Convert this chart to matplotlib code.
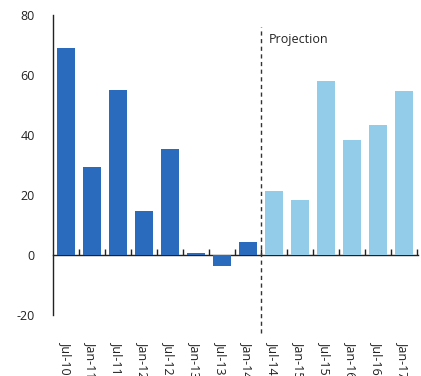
import numpy as np
import matplotlib.pyplot as plt

plt.rcParams['font.family'] = ['Open Sans', 'DejaVu Sans']
plt.rcParams['axes.unicode_minus'] = False

# half-yearly values, history then projection
labels = ['Jul-10', 'Jan-11', 'Jul-11', 'Jan-12', 'Jul-12', 'Jan-13', 'Jul-13',
          'Jan-14', 'Jul-14', 'Jan-15', 'Jul-15', 'Jan-16', 'Jul-16', 'Jan-17']
values = [69, 29.5, 55, 14.7, 35.3, 0.7, -3.7, 4.3,
          21.3, 18.3, 58, 38.3, 43.3, 54.7]
n_actual = 8

colors = ['#2A6BBE'] * n_actual + ['#92CCE8'] * (len(values) - n_actual)
x = np.arange(len(values))

fig = plt.figure(figsize=(4.21, 3.76), dpi=100)
ax = fig.add_axes([53 / 421, 61 / 376, 365 / 421, 300 / 376])

ax.bar(x, values, width=0.7, color=colors, edgecolor='none', zorder=2)

ax.set_xlim(-0.5, len(values) - 0.45)
ax.set_ylim(-20, 80)
ax.set_yticks([-20, 0, 20, 40, 60, 80])
ax.tick_params(axis='y', length=0, pad=13, labelsize=9, colors='#222222')

ax.set_xticks(x)
ax.set_xticklabels(labels, rotation=-90, va='top', ha='center')
ax.tick_params(axis='x', length=0, pad=19, labelsize=9, colors='#222222')

for s in ['top', 'right', 'bottom']:
    ax.spines[s].set_visible(False)
ax.spines['left'].set_color('#222222')
ax.spines['left'].set_linewidth(1.0)

# zero line with category separator ticks
zero = ax.secondary_xaxis(0.2)
zero.set_xticks(np.arange(0.5, len(values), 1.0))
zero.tick_params(axis='x', direction='in', length=4, width=1, labelbottom=False,
                 colors='#222222')
zero.spines['bottom'].set_color('#222222')
zero.spines['bottom'].set_linewidth(1.0)

# projection marker
ax.axvline(n_actual - 0.5, ymin=-0.06, ymax=0.96, color='#333333',
           linestyle=(0, (3, 2.5)), linewidth=1.0, clip_on=False, zorder=3)
ax.text(n_actual - 0.2, 72, 'Projection', fontsize=9, va='center', ha='left',
        color='#222222')

fig.savefig('out.png', dpi=100)
